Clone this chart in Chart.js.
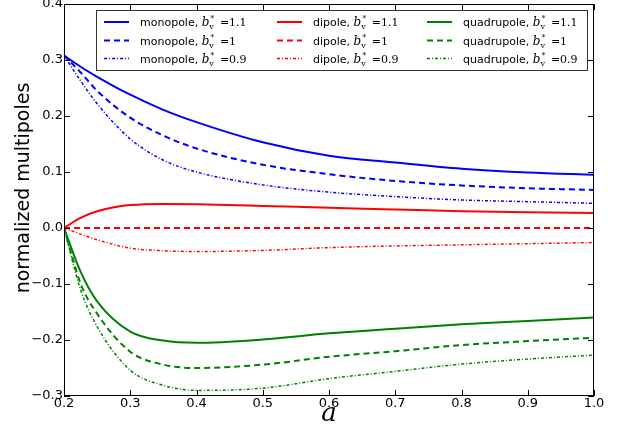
<!DOCTYPE html>
<html>
<head>
<meta charset="utf-8">
<script src="https://cdn.jsdelivr.net/npm/chart.js@4"></script>
<style>
  body { margin: 0; background: #fff; }
  canvas { display: block; }
</style>
</head>
<body>
<canvas id="chart" width="621" height="428"></canvas>
<script>
// dimensionless lattice parameter a
const aValues = [0.2, 0.225, 0.25, 0.3, 0.35, 0.4, 0.5, 0.6, 0.7, 0.8, 0.9, 1.0];

// monopole, b_v* = 1.1 / 1 / 0.9
const monoHigh = [0.308, 0.288, 0.27, 0.238, 0.211, 0.189, 0.153, 0.129, 0.117, 0.106, 0.099, 0.095];
const monoMid = [0.308, 0.278, 0.245, 0.197, 0.165, 0.142, 0.113, 0.096, 0.084, 0.076, 0.071, 0.068];
const monoLow = [0.308, 0.263, 0.222, 0.159, 0.121, 0.1, 0.077, 0.064, 0.056, 0.05, 0.047, 0.044];

// dipole
const dipHigh = [0, 0.018, 0.03, 0.041, 0.043, 0.0425, 0.0395, 0.036, 0.033, 0.03, 0.028, 0.027];
const dipMid = [0, 0, 0, 0, 0, 0, 0, 0, 0, 0, 0, 0];
const dipLow = [0, -0.011, -0.021, -0.036, -0.0406, -0.042, -0.04, -0.035, -0.032, -0.03, -0.028, -0.026];

// quadrupole
const quadHigh = [0, -0.078, -0.131, -0.185, -0.201, -0.205, -0.199, -0.188, -0.18, -0.172, -0.166, -0.16];
const quadMid = [0, -0.099, -0.153, -0.221, -0.244, -0.25, -0.244, -0.23, -0.22, -0.209, -0.202, -0.196];
const quadLow = [0, -0.11, -0.176, -0.254, -0.281, -0.29, -0.286, -0.269, -0.256, -0.243, -0.234, -0.227];

const families = ["monopole", "dipole", "quadrupole"];
const bValues = ["1.1", "1", "0.9"];
const xTicks = [0.2, 0.3, 0.4, 0.5, 0.6, 0.7, 0.8, 0.9, 1.0];
const yTicks = [-0.3, -0.2, -0.1, 0.0, 0.1, 0.2, 0.3, 0.4];

const seriesByFamily = [
  [monoHigh, monoMid, monoLow],
  [dipHigh, dipMid, dipLow],
  [quadHigh, quadMid, quadLow],
];
const colors = ["#0000ff", "#ff0000", "#008000"];
const lineStyles = [
  { dash: [], width: 2 },
  { dash: [6, 4], width: 2 },
  { dash: [3, 2, 1, 2], width: 1.5 },
];

const datasets = [];
families.forEach((fam, fi) => {
  bValues.forEach((b, bi) => {
    datasets.push({
      label: `${fam}, b_v^* =${b}`,
      family: fam,
      bStar: b,
      col: fi,
      row: bi,
      data: aValues.map((a, i) => ({ x: a, y: seriesByFamily[fi][bi][i] })),
      borderColor: colors[fi],
      borderWidth: lineStyles[bi].width,
      borderDash: lineStyles[bi].dash,
      pointRadius: 0,
      fill: false,
      cubicInterpolationMode: "monotone",
    });
  });
});

// frame, inward ticks, legend and axis titles, matplotlib style
const decorations = {
  id: "decorations",
  afterDraw(chart) {
    const { ctx, chartArea: { left, right, top, bottom } } = chart;
    const xs = chart.scales.x;
    const ys = chart.scales.y;
    const tl = 6;
    ctx.save();
    ctx.strokeStyle = "#000";
    ctx.lineWidth = 1;
    ctx.strokeRect(left + 0.5, top + 0.5, right - left - 1, bottom - top - 1);
    ctx.beginPath();
    xTicks.forEach((v) => {
      const px = Math.round(xs.getPixelForValue(v)) + 0.5;
      ctx.moveTo(px, bottom); ctx.lineTo(px, bottom - tl);
      ctx.moveTo(px, top); ctx.lineTo(px, top + tl);
    });
    yTicks.forEach((v) => {
      const py = Math.round(ys.getPixelForValue(v)) + 0.5;
      ctx.moveTo(left, py); ctx.lineTo(left + tl, py);
      ctx.moveTo(right, py); ctx.lineTo(right - tl, py);
    });
    ctx.stroke();

    // legend box
    const bx = 96.5, by = 10.5, bw = 491, bh = 60;
    ctx.fillStyle = "#fff";
    ctx.fillRect(bx, by, bw, bh);
    ctx.strokeStyle = "#333";
    ctx.strokeRect(bx, by, bw, bh);
    const lineX = [104, 277, 427];
    const textX = [140, 313, 463];
    const rowY = [22, 40.5, 58.5];
    chart.data.datasets.forEach((ds) => {
      const y = rowY[ds.row];
      ctx.save();
      ctx.strokeStyle = ds.borderColor;
      ctx.lineWidth = ds.borderWidth;
      ctx.setLineDash(ds.borderDash);
      ctx.beginPath();
      ctx.moveTo(lineX[ds.col], y);
      ctx.lineTo(lineX[ds.col] + 25, y);
      ctx.stroke();
      ctx.restore();

      let x = textX[ds.col];
      ctx.fillStyle = "#000";
      ctx.textBaseline = "alphabetic";
      ctx.textAlign = "left";
      const base = y + 4;
      ctx.font = "11px 'DejaVu Sans'";
      const head = ds.family + ", ";
      ctx.fillText(head, x, base);
      x += ctx.measureText(head).width;
      ctx.font = "italic 12px 'DejaVu Serif'";
      ctx.fillText("b", x, base);
      x += ctx.measureText("b").width;
      ctx.font = "8px 'DejaVu Serif'";
      ctx.fillText("v", x, base + 3);
      ctx.fillText("*", x + 1, base - 5);
      x += ctx.measureText("v").width + 6;
      ctx.font = "11px 'DejaVu Serif'";
      ctx.fillText("=" + ds.bStar, x, base);
    });

    // axis titles
    ctx.fillStyle = "#000";
    ctx.font = "italic 26px 'DejaVu Serif'";
    ctx.textAlign = "center";
    ctx.textBaseline = "alphabetic";
    ctx.fillText("a", (left + right) / 2, 421);
    ctx.save();
    ctx.translate(29, 188);
    ctx.rotate(-Math.PI / 2);
    ctx.font = "19px 'DejaVu Sans'";
    ctx.fillText("normalized multipoles", 0, 0);
    ctx.restore();
    ctx.restore();
  },
};

const fmt = (v) => {
  const s = (Math.abs(v) < 1e-9 ? 0 : v).toFixed(1);
  return s.replace("-", "\u2212");
};

new Chart(document.getElementById("chart"), {
  type: "line",
  data: { datasets: datasets },
  options: {
    responsive: false,
    animation: false,
    devicePixelRatio: 1,
    layout: { padding: { left: 0, right: 27, top: 4, bottom: 0 } },
    plugins: { legend: { display: false }, tooltip: { enabled: false } },
    scales: {
      x: {
        type: "linear",
        min: 0.2,
        max: 1.0,
        afterBuildTicks: (scale) => { scale.ticks = xTicks.map((v) => ({ value: v })); },
        ticks: { callback: fmt, color: "#000", font: { family: "DejaVu Sans", size: 13 }, padding: 0, maxRotation: 0, autoSkip: false },
        grid: { display: false, drawTicks: false },
        border: { display: false },
        afterFit: (scale) => { scale.height = 32; scale.paddingLeft = 0; scale.paddingRight = 0; },
      },
      y: {
        type: "linear",
        min: -0.3,
        max: 0.4,
        afterBuildTicks: (scale) => { scale.ticks = yTicks.map((v) => ({ value: v })); },
        ticks: { callback: fmt, color: "#000", font: { family: "DejaVu Sans", size: 13 }, padding: 1, autoSkip: false },
        grid: { display: false, drawTicks: false },
        border: { display: false },
        afterFit: (scale) => { scale.width = 64; scale.paddingTop = 0; scale.paddingBottom = 0; },
      },
    },
  },
  plugins: [decorations],
});
</script>
</body>
</html>
